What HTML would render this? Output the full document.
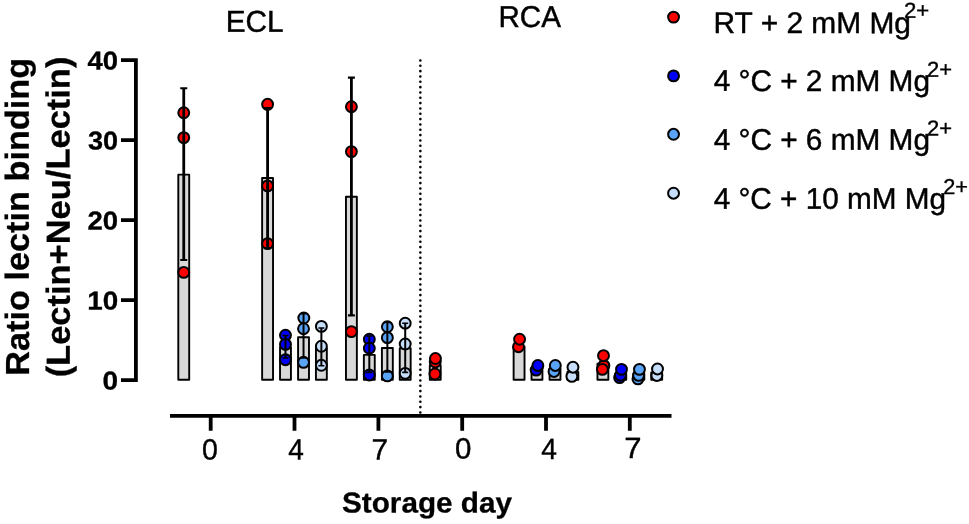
<!DOCTYPE html>
<html><head><meta charset="utf-8"><title>Ratio lectin binding</title>
<style>html,body{margin:0;padding:0;background:#fff}svg{display:block}</style></head>
<body>
<svg width="969" height="524" viewBox="0 0 969 524" font-family="'Liberation Sans', Arial, sans-serif" fill="#000" text-rendering="geometricPrecision">
<rect width="969" height="524" fill="#fff"/>
<rect x="178.30" y="174.64" width="10.90" height="205.06" fill="#d8d8d8" stroke="#000" stroke-width="1.9" stroke-linejoin="round"/>
<circle cx="183.75" cy="112.80" r="5.45" fill="#ff0000" stroke="#000" stroke-width="2.0"/>
<circle cx="183.75" cy="137.60" r="5.45" fill="#ff0000" stroke="#000" stroke-width="2.0"/>
<circle cx="183.75" cy="272.40" r="5.45" fill="#ff0000" stroke="#000" stroke-width="2.0"/>
<path d="M183.75 88.24V260.00" fill="none" stroke="#000" stroke-width="2.8"/><path d="M180.25 88.24h7.0M180.25 260.00h7.0" fill="none" stroke="#000" stroke-width="2.2"/>
<rect x="262.13" y="178.00" width="10.90" height="201.70" fill="#d8d8d8" stroke="#000" stroke-width="1.9" stroke-linejoin="round"/>
<circle cx="267.58" cy="104.32" r="5.45" fill="#ff0000" stroke="#000" stroke-width="2.0"/>
<circle cx="267.58" cy="185.92" r="5.45" fill="#ff0000" stroke="#000" stroke-width="2.0"/>
<circle cx="267.58" cy="243.60" r="5.45" fill="#ff0000" stroke="#000" stroke-width="2.0"/>
<path d="M267.58 108.16V248.00" fill="none" stroke="#000" stroke-width="2.8"/><path d="M264.08 108.16h7.0M264.08 248.00h7.0" fill="none" stroke="#000" stroke-width="2.2"/>
<rect x="280.03" y="347.12" width="10.90" height="32.58" fill="#d8d8d8" stroke="#000" stroke-width="1.9" stroke-linejoin="round"/>
<circle cx="285.48" cy="335.20" r="5.45" fill="#0000fa" stroke="#000" stroke-width="2.0"/>
<circle cx="285.48" cy="344.40" r="5.45" fill="#0000fa" stroke="#000" stroke-width="2.0"/>
<circle cx="285.48" cy="359.68" r="5.45" fill="#0000fa" stroke="#000" stroke-width="2.0"/>
<path d="M285.48 335.52V358.00" fill="none" stroke="#000" stroke-width="2.0"/><path d="M282.48 335.52h6.0M282.48 358.00h6.0" fill="none" stroke="#000" stroke-width="1.6"/>
<rect x="298.08" y="337.28" width="10.90" height="42.42" fill="#d8d8d8" stroke="#000" stroke-width="1.9" stroke-linejoin="round"/>
<circle cx="303.83" cy="318.00" r="5.45" fill="#5aa4f8" stroke="#000" stroke-width="2.0"/>
<circle cx="303.53" cy="328.72" r="5.45" fill="#5aa4f8" stroke="#000" stroke-width="2.0"/>
<circle cx="303.53" cy="362.32" r="5.45" fill="#5aa4f8" stroke="#000" stroke-width="2.0"/>
<path d="M303.53 313.60V358.00" fill="none" stroke="#000" stroke-width="2.0"/><path d="M300.53 313.60h6.0M300.53 358.00h6.0" fill="none" stroke="#000" stroke-width="1.6"/>
<rect x="315.93" y="348.00" width="10.90" height="31.70" fill="#d8d8d8" stroke="#000" stroke-width="1.9" stroke-linejoin="round"/>
<circle cx="321.38" cy="326.40" r="5.45" fill="#c6defa" stroke="#000" stroke-width="2.0"/>
<circle cx="321.38" cy="346.24" r="5.45" fill="#c6defa" stroke="#000" stroke-width="2.0"/>
<circle cx="321.38" cy="365.28" r="5.45" fill="#c6defa" stroke="#000" stroke-width="2.0"/>
<path d="M321.38 328.00V365.76" fill="none" stroke="#000" stroke-width="2.0"/><path d="M318.38 328.00h6.0M318.38 365.76h6.0" fill="none" stroke="#000" stroke-width="1.6"/>
<rect x="345.96" y="196.80" width="10.90" height="182.90" fill="#d8d8d8" stroke="#000" stroke-width="1.9" stroke-linejoin="round"/>
<circle cx="351.41" cy="106.72" r="5.45" fill="#ff0000" stroke="#000" stroke-width="2.0"/>
<circle cx="351.41" cy="151.60" r="5.45" fill="#ff0000" stroke="#000" stroke-width="2.0"/>
<circle cx="351.41" cy="331.60" r="5.45" fill="#ff0000" stroke="#000" stroke-width="2.0"/>
<path d="M351.41 77.60V315.44" fill="none" stroke="#000" stroke-width="2.8"/><path d="M347.91 77.60h7.0M347.91 315.44h7.0" fill="none" stroke="#000" stroke-width="2.2"/>
<rect x="363.86" y="354.88" width="10.90" height="24.82" fill="#d8d8d8" stroke="#000" stroke-width="1.9" stroke-linejoin="round"/>
<circle cx="369.31" cy="339.20" r="5.45" fill="#0000fa" stroke="#000" stroke-width="2.0"/>
<circle cx="369.31" cy="348.24" r="5.45" fill="#0000fa" stroke="#000" stroke-width="2.0"/>
<circle cx="369.31" cy="374.96" r="5.45" fill="#0000fa" stroke="#000" stroke-width="2.0"/>
<path d="M369.31 336.00V372.40" fill="none" stroke="#000" stroke-width="2.0"/><path d="M366.31 336.00h6.0M366.31 372.40h6.0" fill="none" stroke="#000" stroke-width="1.6"/>
<rect x="381.91" y="348.00" width="10.90" height="31.70" fill="#d8d8d8" stroke="#000" stroke-width="1.9" stroke-linejoin="round"/>
<circle cx="387.36" cy="326.80" r="5.45" fill="#5aa4f8" stroke="#000" stroke-width="2.0"/>
<circle cx="387.36" cy="337.68" r="5.45" fill="#5aa4f8" stroke="#000" stroke-width="2.0"/>
<circle cx="387.36" cy="375.92" r="5.45" fill="#5aa4f8" stroke="#000" stroke-width="2.0"/>
<path d="M387.36 322.40V372.00" fill="none" stroke="#000" stroke-width="2.0"/><path d="M384.36 322.40h6.0M384.36 372.00h6.0" fill="none" stroke="#000" stroke-width="1.6"/>
<rect x="399.76" y="348.24" width="10.90" height="31.46" fill="#d8d8d8" stroke="#000" stroke-width="1.9" stroke-linejoin="round"/>
<circle cx="405.21" cy="323.20" r="5.45" fill="#c6defa" stroke="#000" stroke-width="2.0"/>
<circle cx="405.21" cy="344.00" r="5.45" fill="#c6defa" stroke="#000" stroke-width="2.0"/>
<circle cx="405.21" cy="373.36" r="5.45" fill="#c6defa" stroke="#000" stroke-width="2.0"/>
<path d="M405.21 323.20V372.40" fill="none" stroke="#000" stroke-width="2.0"/><path d="M402.21 323.20h6.0M402.21 372.40h6.0" fill="none" stroke="#000" stroke-width="1.6"/>
<rect x="429.79" y="365.20" width="10.90" height="14.50" fill="#d8d8d8" stroke="#000" stroke-width="1.9" stroke-linejoin="round"/>
<circle cx="434.94" cy="374.00" r="5.45" fill="#ff0000" stroke="#000" stroke-width="2.0"/>
<circle cx="435.24" cy="362.00" r="5.45" fill="#ff0000" stroke="#000" stroke-width="2.0"/>
<circle cx="435.44" cy="358.56" r="5.45" fill="#ff0000" stroke="#000" stroke-width="2.0"/>
<rect x="513.62" y="346.40" width="10.90" height="33.30" fill="#d8d8d8" stroke="#000" stroke-width="1.9" stroke-linejoin="round"/>
<circle cx="518.47" cy="346.72" r="5.45" fill="#ff0000" stroke="#000" stroke-width="2.0"/>
<circle cx="519.57" cy="339.20" r="5.45" fill="#ff0000" stroke="#000" stroke-width="2.0"/>
<rect x="531.52" y="368.00" width="10.90" height="11.70" fill="#d8d8d8" stroke="#000" stroke-width="1.9" stroke-linejoin="round"/>
<circle cx="536.17" cy="370.08" r="5.45" fill="#0000fa" stroke="#000" stroke-width="2.0"/>
<circle cx="537.87" cy="365.44" r="5.45" fill="#0000fa" stroke="#000" stroke-width="2.0"/>
<rect x="549.57" y="368.40" width="10.90" height="11.30" fill="#d8d8d8" stroke="#000" stroke-width="1.9" stroke-linejoin="round"/>
<circle cx="554.02" cy="371.44" r="5.45" fill="#5aa4f8" stroke="#000" stroke-width="2.0"/>
<circle cx="555.32" cy="365.44" r="5.45" fill="#5aa4f8" stroke="#000" stroke-width="2.0"/>
<rect x="567.42" y="371.84" width="10.90" height="7.86" fill="#d8d8d8" stroke="#000" stroke-width="1.9" stroke-linejoin="round"/>
<circle cx="571.87" cy="376.32" r="5.45" fill="#c6defa" stroke="#000" stroke-width="2.0"/>
<circle cx="572.97" cy="367.20" r="5.45" fill="#c6defa" stroke="#000" stroke-width="2.0"/>
<rect x="597.45" y="363.60" width="10.90" height="16.10" fill="#d8d8d8" stroke="#000" stroke-width="1.9" stroke-linejoin="round"/>
<circle cx="603.90" cy="365.60" r="5.45" fill="#ff0000" stroke="#000" stroke-width="2.0"/>
<circle cx="602.40" cy="369.36" r="5.45" fill="#ff0000" stroke="#000" stroke-width="2.0"/>
<circle cx="603.50" cy="355.68" r="5.45" fill="#ff0000" stroke="#000" stroke-width="2.0"/>
<rect x="615.35" y="373.60" width="10.90" height="6.10" fill="#d8d8d8" stroke="#000" stroke-width="1.9" stroke-linejoin="round"/>
<circle cx="619.60" cy="377.60" r="5.45" fill="#0000fa" stroke="#000" stroke-width="2.0"/>
<circle cx="620.50" cy="375.20" r="5.45" fill="#0000fa" stroke="#000" stroke-width="2.0"/>
<circle cx="621.50" cy="369.36" r="5.45" fill="#0000fa" stroke="#000" stroke-width="2.0"/>
<rect x="633.40" y="373.60" width="10.90" height="6.10" fill="#d8d8d8" stroke="#000" stroke-width="1.9" stroke-linejoin="round"/>
<circle cx="637.95" cy="378.88" r="5.45" fill="#5aa4f8" stroke="#000" stroke-width="2.0"/>
<circle cx="638.65" cy="375.36" r="5.45" fill="#5aa4f8" stroke="#000" stroke-width="2.0"/>
<circle cx="639.45" cy="369.36" r="5.45" fill="#5aa4f8" stroke="#000" stroke-width="2.0"/>
<rect x="651.25" y="372.40" width="10.90" height="7.30" fill="#d8d8d8" stroke="#000" stroke-width="1.9" stroke-linejoin="round"/>
<circle cx="656.85" cy="375.44" r="5.45" fill="#c6defa" stroke="#000" stroke-width="2.0"/>
<circle cx="657.50" cy="368.96" r="5.45" fill="#c6defa" stroke="#000" stroke-width="2.0"/>
<line x1="420.35" y1="60.45" x2="420.35" y2="413" stroke="#000" stroke-width="2.6" stroke-dasharray="0.01 5.323" stroke-linecap="round"/>
<path d="M135.9 58.3V382M121 60.2H135.9M121 140.1H135.9M121 220.1H135.9M121 300.1H135.9M121 380.1H135.9" fill="none" stroke="#000" stroke-width="3.8"/>
<path d="M170 415.8H671.5M210.7 415.8V430.8M294.5 415.8V430.8M378.4 415.8V430.8M462.2 415.8V430.8M546.0 415.8V430.8M629.8 415.8V430.8" fill="none" stroke="#000" stroke-width="3.8"/>
<text transform="translate(102.54 389.45) rotate(0.05) scale(1.0848 1)" font-size="25.8" font-weight="bold" stroke="#000" stroke-width="0.3">0</text>
<text transform="translate(87.19 309.45) rotate(0.05) scale(1.0779 1)" font-size="25.8" font-weight="bold" stroke="#000" stroke-width="0.3">10</text>
<text transform="translate(87.49 229.45) rotate(0.05) scale(1.0671 1)" font-size="25.8" font-weight="bold" stroke="#000" stroke-width="0.3">20</text>
<text transform="translate(88.00 149.45) rotate(0.05) scale(1.0487 1)" font-size="25.8" font-weight="bold" stroke="#000" stroke-width="0.3">30</text>
<text transform="translate(87.53 69.45) rotate(0.05) scale(1.0657 1)" font-size="25.8" font-weight="bold" stroke="#000" stroke-width="0.3">40</text>
<text transform="translate(202.08 459.50) rotate(0.05) scale(0.9721 1)" font-size="29.3" font-weight="normal" stroke="#000" stroke-width="0.4">0</text>
<text transform="translate(288.35 459.50) rotate(0.05) scale(0.9556 1)" font-size="29.3" font-weight="normal" stroke="#000" stroke-width="0.4">4</text>
<text transform="translate(371.56 459.50) rotate(0.05) scale(1.0216 1)" font-size="29.3" font-weight="normal" stroke="#000" stroke-width="0.4">7</text>
<text transform="translate(454.90 458.60) rotate(0.05) scale(1.0043 1)" font-size="29.3" font-weight="normal" stroke="#000" stroke-width="0.4">0</text>
<text transform="translate(541.35 458.90) rotate(0.05) scale(0.9624 1)" font-size="29.3" font-weight="normal" stroke="#000" stroke-width="0.4">4</text>
<text transform="translate(624.30 458.00) rotate(0.05) scale(1.0592 1)" font-size="29.3" font-weight="normal" stroke="#000" stroke-width="0.4">7</text>
<text transform="translate(341.97 512.50) rotate(0.05) scale(1.0355 1)" font-size="28.7" font-weight="bold" stroke="#000" stroke-width="0.3">Storage day</text>
<text transform="translate(225.68 31.80) rotate(0.05) scale(0.9881 1)" font-size="30.1" font-weight="normal" stroke="#000" stroke-width="0.45">ECL</text>
<text transform="translate(498.49 27.00) rotate(0.05) scale(0.9833 1)" font-size="30.1" font-weight="normal" stroke="#000" stroke-width="0.45">RCA</text>
<text transform="translate(28.90 375.84) rotate(-90.05) scale(1.0296 1)" font-size="33.3" font-weight="bold" stroke="#000" stroke-width="0.3">Ratio lectin binding</text>
<text transform="translate(69.80 377.37) rotate(-90.05) scale(1.0351 1)" font-size="33.3" font-weight="bold" stroke="#000" stroke-width="0.3">(Lectin+Neu/Lectin)</text>
<circle cx="673.55" cy="17.1" r="5.45" fill="#ff0000" stroke="#000" stroke-width="2.0"/>
<text transform="translate(713.57 33.00) rotate(0.05) scale(1.0029 1)" font-size="29.8" font-weight="normal" stroke="#000" stroke-width="0.45">RT + 2 mM Mg</text>
<text transform="translate(903.96 17.75) rotate(0.05) scale(1.0269 1)" font-size="21.6" font-weight="normal" stroke="#000" stroke-width="0.35">2+</text>
<circle cx="673.55" cy="75.9" r="5.45" fill="#0000fa" stroke="#000" stroke-width="2.0"/>
<text transform="translate(713.64 90.85) rotate(0.05) scale(0.9997 1)" font-size="29.8" font-weight="normal" stroke="#000" stroke-width="0.45">4 °C + 2 mM Mg</text>
<text transform="translate(927.07 76.70) rotate(0.05) scale(1.0180 1)" font-size="21.6" font-weight="normal" stroke="#000" stroke-width="0.35">2+</text>
<circle cx="673.55" cy="134.3" r="5.45" fill="#5aa4f8" stroke="#000" stroke-width="2.0"/>
<text transform="translate(713.64 149.70) rotate(0.05) scale(0.9997 1)" font-size="29.8" font-weight="normal" stroke="#000" stroke-width="0.45">4 °C + 6 mM Mg</text>
<text transform="translate(927.07 135.50) rotate(0.05) scale(1.0180 1)" font-size="21.6" font-weight="normal" stroke="#000" stroke-width="0.35">2+</text>
<circle cx="673.55" cy="193.2" r="5.45" fill="#c6defa" stroke="#000" stroke-width="2.0"/>
<text transform="translate(713.64 208.70) rotate(0.05) scale(0.9974 1)" font-size="29.8" font-weight="normal" stroke="#000" stroke-width="0.45">4 °C + 10 mM Mg</text>
<text transform="translate(943.18 193.90) rotate(0.05) scale(1.0046 1)" font-size="21.6" font-weight="normal" stroke="#000" stroke-width="0.35">2+</text>
</svg>
</body></html>
